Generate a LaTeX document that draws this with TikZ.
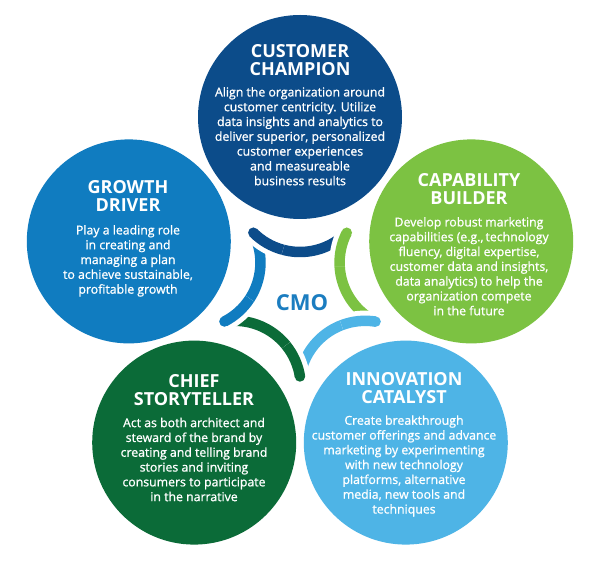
\documentclass[tikz,border=0pt]{standalone}
\usepackage{fontspec}
\setmainfont{Open Sans}
\newfontfamily\bodyfont{Open Sans}[FakeBold=1.0]
\usetikzlibrary{calc}
\definecolor{cTop}{HTML}{0C4C8A}
\definecolor{cLeft}{HTML}{107CC0}
\definecolor{cRight}{HTML}{7CC242}
\definecolor{cBL}{HTML}{0B6B38}
\definecolor{cBR}{HTML}{4EB4E6}
\definecolor{cCMO}{HTML}{1B7DC0}
\begin{document}
\begin{tikzpicture}[x=1pt,y=1pt,
  bubble/.style={circle, minimum size=204pt, inner sep=0pt, draw=none},
  ttl/.style={text=white, font=\fontsize{18}{18}\selectfont\bfseries, align=center, anchor=north, inner sep=0pt},
  bdy/.style={text=white, font=\bodyfont\fontsize{12.3}{14.8}\selectfont, align=center, anchor=north, inner sep=0pt},
  band/.style={line width=10.5pt, line cap=butt},
  border/.style={line width=20.5pt, line cap=butt, white},
]
\useasboundingbox[fill=white] (0,0) rectangle (600,565);
\coordinate (O) at (300,268);

% circles
\node[bubble, fill=cTop]   (top)   at (300,448)     {};
\node[bubble, fill=cRight] (right) at (471.2,323.6) {};
\node[bubble, fill=cBR]    (br)    at (405.8,122.4) {};
\node[bubble, fill=cBL]    (bl)    at (194.2,122.4) {};
\node[bubble, fill=cLeft]  (left)  at (128.8,323.6) {};

% arcs, full length
\foreach \a/\c in {90/cTop, 18/cRight, -54/cBR, -126/cBL, 162/cLeft}{
  \draw[band, \c] ($(O)+(\a:111)+(\a+135:66)$) arc[start angle=\a+135, end angle=\a+222, radius=66];
}
% round-ended starts, laid over the neighbour's end
\foreach \a/\c in {90/cTop, 18/cRight, -54/cBR, -126/cBL, 162/cLeft}{
  \draw[border] ($(O)+(\a:111)+(\a+135:66)$) arc[start angle=\a+135, end angle=\a+165, radius=66];
  \fill[white] ($(O)+(\a:111)+(\a+135:66)$) circle (10.25);
  \draw[band, \c] ($(O)+(\a:111)+(\a+135:66)$) arc[start angle=\a+135, end angle=\a+165, radius=66];
  \fill[\c] ($(O)+(\a:111)+(\a+135:66)$) circle (5.25);
}

\node[text=cCMO, font=\fontsize{22}{22}\selectfont\bfseries, inner sep=0pt] (cmo) at (302,262) {CMO};

% texts
\node[ttl] (topT) at (300,520.7) {CUSTOMER\\CHAMPION};
\node[bdy] (topB) at (300,478.1) {Align the organization around\\customer centricity. Utilize\\data insights and analytics to\\deliver superior, personalized\\customer experiences\\and measureable\\business results};

\node[ttl] (leftT) at (128,385) {GROWTH\\DRIVER};
\node[bdy] (leftB) at (128,340.1) {Play a leading role\\in creating and\\managing a plan\\to achieve sustainable,\\profitable growth};

\node[ttl] (rightT) at (469,392) {CAPABILITY\\BUILDER};
\node[bdy] (rightB) at (469,348.1) {Develop robust marketing\\capabilities (e.g.,\,technology\\fluency, digital expertise,\\customer data and insights,\\data analytics) to help the\\organization compete\\in the future};

\node[ttl] (blT) at (194,191) {CHIEF\\STORYTELLER};
\node[bdy] (blB) at (194,147.4) {Act as both architect and\\steward of the brand by\\creating and telling brand\\stories and inviting\\consumers to participate\\in the narrative};

\node[ttl] (brT) at (404,192.3) {INNOVATION\\CATALYST};
\node[bdy] (brB) at (404,149.8) {Create breakthrough\\customer offerings and advance\\marketing by experimenting\\with new technology\\platforms, alternative\\media, new tools and\\techniques};
\end{tikzpicture}
\end{document}
